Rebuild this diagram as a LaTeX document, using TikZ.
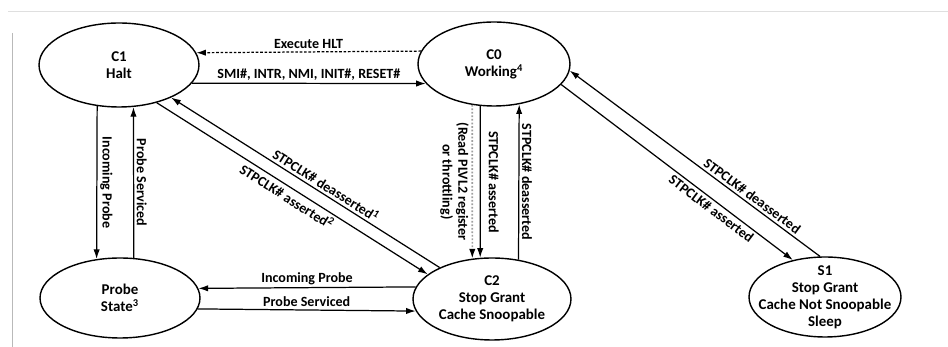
\documentclass[tikz,border=0pt]{standalone}
\usepackage{fontspec}
\setmainfont{Carlito}
\usetikzlibrary{positioning,arrows.meta,shapes.geometric}

\begin{document}
\begin{tikzpicture}[x=0.02cm,y=0.02cm,every node/.style={font=\fontsize{8}{9}\selectfont\bfseries},
    state/.style={draw,ellipse,line width=.8pt,inner sep=-1cm,align=center,font=\fontsize{8.5}{9.6}\selectfont\bfseries},
    link/.style={-{Latex[length=5.5pt,width=3.6pt,color=black]},line width=.7pt},
    lbl/.style={inner sep=1.5pt}]
  \useasboundingbox (0,0) rectangle (948,-347);
  \draw[gray!25] (8,-11) -- (948,-11);
  \draw[gray!55] (12,-33) -- (12,-347);
  \node[state,minimum width=3.2cm,minimum height=1.68cm] (c1) at (119,-65) {C1\\Halt};
  \node[state,minimum width=3.04cm,minimum height=1.68cm] (c0) at (494,-64) {C0\\Working\textsuperscript{4}};
  \node[state,minimum width=3.2cm,minimum height=1.6cm] (probe) at (120,-298) {Probe\\State\textsuperscript{3}};
  \node[state,minimum width=3.16cm,minimum height=1.64cm] (c2) at (492,-299) {C2\\Stop Grant\\Cache Snoopable};
  \node[state,minimum width=3.04cm,minimum height=1.6cm] (s1) at (825,-297) {S1\\Stop Grant\\Cache Not Snoopable\\Sleep};
  \draw[link,dash pattern=on 1.5pt off 1pt] (c0.170.6) -- node[above,lbl]{Execute HLT} (c1.9.7);
  \draw[link] (c1.-14) -- node[above,lbl]{SMI\#, INTR, NMI, INIT\#, RESET\#} (c0.-164.3);
  \draw[link] (c1.-118.6) -- node[lbl,rotate=-90,anchor=south]{Incoming Probe} (probe.121);
  \draw[link] (probe.71.8) -- node[lbl,rotate=-90,anchor=south]{Probe Serviced} (c1.-71.3);
  \draw[link] (c2.171.8) -- node[above,lbl]{Incoming Probe} (probe.7.4);
  \draw[link] (probe.-8.9) -- node[above,lbl]{Probe Serviced} (c2.-171.8);
  \draw[link,gray!75,line width=.9pt,dash pattern=on 1pt off 1pt] (c0.-118.7) -- node[lbl,black,rotate=-90,anchor=north,align=center]{(Read PLVL2 register\\or throttling)} (c2.116.7);
  \draw[link] (c0.-108.7) -- node[rotate=-90,anchor=south,inner sep=4.5pt]{STPCLK\# asserted} (c2.106.5);
  \draw[link] (c2.56.1) -- node[lbl,rotate=-90,anchor=south]{STPCLK\# deasserted} (c0.-58.9);
  \draw[link] (c2.149.8) -- node[lbl,sloped,above,pos=.44]{STPCLK\# deasserted\textsuperscript{1}} (c1.-32);
  \draw[link] (c1.-45.7) -- node[lbl,sloped,below,pos=.5]{STPCLK\# asserted\textsuperscript{2}} (c2.159.4);
  \draw[link] (s1.97) -- node[lbl,sloped,above,pos=.29]{STPCLK\# deasserted} (c0.-5);
  \draw[link] (c0.-17) -- node[lbl,sloped,below,pos=.67]{STPCLK\# asserted} (s1.131);
\end{tikzpicture}
\end{document}
